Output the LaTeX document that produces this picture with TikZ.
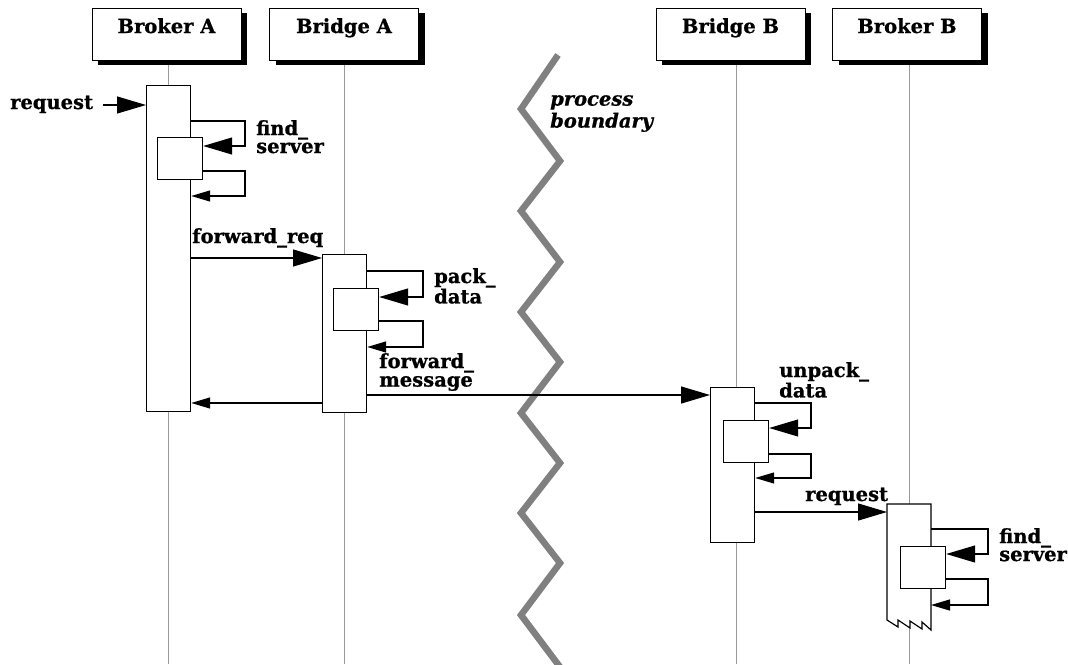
\documentclass[tikz,border=0pt]{standalone}
\usepackage{fontspec}
\setmainfont{DejaVu Serif}[BoldFeatures={FakeBold=0.8}, BoldItalicFeatures={FakeBold=0.8}]
\usetikzlibrary{arrows.meta,shadows}
\begin{document}
\begin{tikzpicture}[x=1pt,y=-1pt,
  every node/.style={inner sep=0pt},
  lbl/.style={font=\fontsize{19.5}{18}\selectfont\bfseries, align=left, anchor=north west},
  lblone/.style={font=\fontsize{19.5}{18}\selectfont\bfseries, anchor=base west},
  head/.style={draw, line width=1pt, fill=white, minimum width=149pt, minimum height=52pt,
    text height=25pt, text depth=27pt, font=\fontsize{19.5}{18}\selectfont\bfseries,
    drop shadow={shadow xshift=6pt, shadow yshift=-5pt, fill=black, opacity=1}},
  life/.style={draw=black!40, line width=0.9pt},
  act/.style={draw, line width=1.2pt, fill=white, anchor=north west, minimum width=44pt},
  subact/.style={draw, line width=1.2pt, fill=white, anchor=north west, minimum width=45pt, minimum height=42pt},
  msg/.style={line width=1.2pt},
  bigarrow/.style={msg, -{Triangle[length=29pt,width=17pt]}},
  smallarrow/.style={msg, -{Triangle[length=19pt,width=11pt]}},
  boundary/.style={draw=black!50, line width=6.5pt, line join=miter}
]
\useasboundingbox (0,0) rectangle (1068,664);
\fill[white] (0,0) rectangle (1068,664);

% lifelines
\coordinate (lAt) at (168,60);  \coordinate (lAb) at (168,664);
\coordinate (lBt) at (344,60);  \coordinate (lBb) at (344,664);
\coordinate (lCt) at (736,60);  \coordinate (lCb) at (736,664);
\coordinate (lDt) at (909,60);  \coordinate (lDb) at (909,664);
\draw[life] (lAt) -- (lAb);
\draw[life] (lBt) -- (lBb);
\draw[life] (lCt) -- (lCb);
\draw[life] (lDt) -- (lDb);

% headers
\node[head] (hBrA) at (166.5,34) {Broker A};
\node[head] (hBgA) at (344,34) {Bridge A};
\node[head] (hBgB) at (730.5,34) {Bridge B};
\node[head] (hBrB) at (907,34) {Broker B};

% process boundary
\draw[boundary] (558,55) -- (521,109) -- (560,161) -- (521,211) -- (560,262) -- (521,312)
  -- (560,362) -- (521,413) -- (560,463) -- (521,513) -- (560,563) -- (521,615) -- (560,667);
\node[lbl, font=\fontsize{19.5}{22}\selectfont\bfseries\itshape] (pb) at (550,95) {process\\boundary};

% activation boxes
\node[act, minimum height=326pt] (aBrA) at (146,85) {};
\node[act, minimum height=158pt] (aBgA) at (322,254) {};
\node[act, minimum height=155pt] (aBgB) at (710,387) {};
\draw[line width=1.2pt, fill=white, line join=miter]
  (887,504) coordinate (aBrBnw) -- (931,504) coordinate (aBrBne) -- (931,630)
  -- (922,622) -- (922,629) -- (910,621) -- (910,628) -- (898,620) -- (898,627) -- (887,620) -- cycle;

% nested activations
\node[subact] (iBrA) at (157,137) {};
\node[subact] (iBgA) at (333,288) {};
\node[subact] (iBgB) at (723,420) {};
\node[subact] (iBrB) at (900,546) {};

% messages
\coordinate (reqS) at (103,105);
\draw[bigarrow] (reqS) -- (aBrA.west |- reqS);
\node[lblone] (lreq) at (10,109) {request};

\draw[bigarrow] (aBrA.east |- 0,121) -| (245,146) -- (iBrA.east |- 0,146);
\draw[smallarrow] (iBrA.east |- 0,171) -| (245,196) -- (aBrA.east |- 0,196);
\node[lbl] (lfs1) at (256,120) {find\_\\server};

\draw[bigarrow] (aBrA.east |- 0,258) -- (aBgA.west |- 0,258);
\node[lblone] (lfr) at (192,243) {forward\_req};

\draw[bigarrow] (aBgA.east |- 0,271) -| (423,297) -- (iBgA.east |- 0,297);
\draw[smallarrow] (iBgA.east |- 0,321) -| (423,347) -- (aBgA.east |- 0,347);
\node[lbl] (lpd) at (434,268) {pack\_\\data};
\node[lbl, font=\fontsize{19.5}{18.5}\selectfont\bfseries] (lfm) at (379,353) {forward\_\\message};

\draw[smallarrow] (aBgA.west |- 0,403) -- (aBrA.east |- 0,403);
\draw[bigarrow] (aBgA.east |- 0,395) -- (aBgB.west |- 0,395);

\draw[bigarrow] (aBgB.east |- 0,403) -| (811,428) -- (iBgB.east |- 0,428);
\draw[smallarrow] (iBgB.east |- 0,454) -| (811,478) -- (aBgB.east |- 0,478);
\node[lbl, font=\fontsize{19.5}{17.5}\selectfont\bfseries] (lud) at (779,362) {unpack\_\\data};

\draw[bigarrow] (aBgB.east |- 0,512) -- (aBrBnw |- 0,512);
\node[lblone] (lreq2) at (805,501) {request};

\draw[bigarrow] (aBrBne |- 0,529) -| (988,554) -- (iBrB.east |- 0,554);
\draw[smallarrow] (iBrB.east |- 0,579) -| (988,605) -- (aBrBne |- 0,605);
\node[lbl] (lfs2) at (999,528) {find\_\\server};
\end{tikzpicture}
\end{document}
